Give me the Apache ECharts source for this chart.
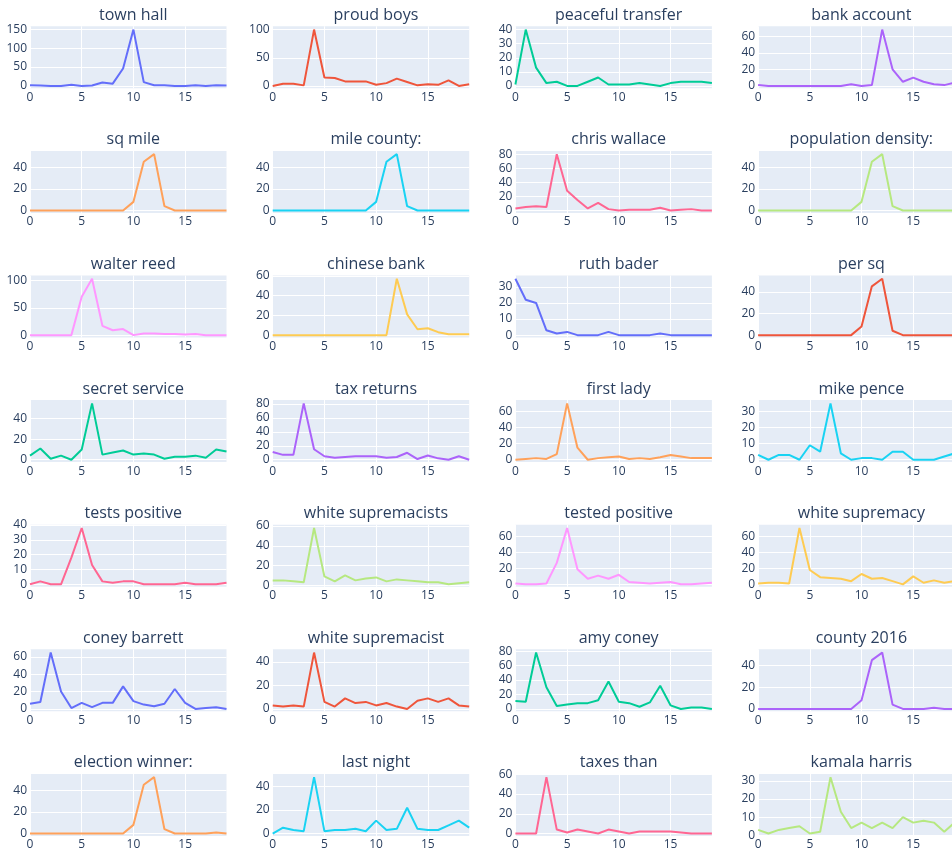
<!DOCTYPE html>
<html>
<head>
<meta charset="utf-8">
<script src="https://cdn.jsdelivr.net/npm/echarts@6/dist/echarts.min.js"></script>
<style>
html,body{margin:0;padding:0;background:#fff;}
#chart{width:952px;height:854px;}
</style>
</head>
<body>
<div id="chart"></div>
<script>
// ---- data ----
const xValues = [0,1,2,3,4,5,6,7,8,9,10,11,12,13,14,15,16,17,18,19];
const xTicks = [0,5,10,15];

const titles = ["town hall","proud boys","peaceful transfer","bank account",
  "sq mile","mile county:","chris wallace","population density:",
  "walter reed","chinese bank","ruth bader","per sq",
  "secret service","tax returns","first lady","mike pence",
  "tests positive","white supremacists","tested positive","white supremacy",
  "coney barrett","white supremacist","amy coney","county 2016",
  "election winner:","last night","taxes than","kamala harris"];

const townHall          = [2,1,0,0,3,0,1,9,6,46,149,10,2,2,0,0,2,0,2,1];
const proudBoys         = [0,4,4,1,100,15,14,8,8,8,2,5,13,7,1,3,2,10,0,3];
const peacefulTransfer  = [1,40,13,2,3,0,0,3,6,1,1,1,2,1,0,2,3,3,3,2];
const bankAccount       = [1,0,0,0,0,0,0,0,0,2,0,1,68,20,5,10,5,2,1,4];
const sqMile            = [0,0,0,0,0,0,0,0,0,0,8,45,52,4,0,0,0,0,0,0];
const mileCounty        = [0,0,0,0,0,0,0,0,0,0,8,45,52,4,0,0,0,0,0,0];
const chrisWallace      = [3,5,6,5,80,28,15,3,11,2,0,1,1,1,4,0,1,2,0,0];
const populationDensity = [0,0,0,0,0,0,0,0,0,0,8,45,52,4,0,0,0,0,0,0];
const walterReed        = [0,0,0,0,0,70,103,17,9,11,0,3,3,2,2,1,2,0,0,0];
const chineseBank       = [0,0,0,0,0,0,0,0,0,0,0,0,57,21,6,7,3,1,1,1];
const ruthBader         = [35,22,20,3,1,2,0,0,0,2,0,0,0,0,1,0,0,0,0,0];
const perSq             = [0,0,0,0,0,0,0,0,0,0,8,45,52,4,0,0,0,0,0,0];
const secretService     = [4,11,1,4,0,10,55,5,7,9,5,6,5,1,3,3,4,2,10,8];
const taxReturns        = [11,7,7,81,15,5,3,4,5,5,5,3,4,10,1,6,2,0,5,0];
const firstLady         = [0,1,2,1,7,70,15,0,2,3,4,1,2,1,3,6,4,2,2,2];
const mikePence         = [3,0,3,3,0,9,5,35,4,0,1,1,0,5,5,0,0,0,2,4];
const testsPositive     = [0,2,0,0,18,38,13,2,1,2,2,0,0,0,0,1,0,0,0,1];
const whiteSupremacists = [5,5,4,3,58,9,4,10,5,7,8,4,6,5,4,3,3,1,2,3];
const testedPositive    = [1,0,0,1,27,71,19,7,11,7,12,3,2,1,2,3,0,0,1,2];
const whiteSupremacy    = [1,2,2,1,71,18,9,8,7,4,13,7,8,4,0,10,2,5,2,4];
const coneyBarrett      = [6,8,65,20,1,7,2,7,7,26,9,5,3,6,23,7,0,1,2,0];
const whiteSupremacist  = [3,2,3,2,48,6,2,9,5,6,3,5,2,0,7,9,6,9,3,2];
const amyConey          = [11,10,78,30,4,6,8,8,12,38,10,8,3,9,32,5,0,2,2,0];
const county2016        = [0,0,0,0,0,0,0,0,0,0,8,45,52,4,0,0,0,1,0,0];
const electionWinner    = [0,0,0,0,0,0,0,0,0,0,8,45,52,4,0,0,0,0,1,0];
const lastNight         = [0,5,3,2,48,2,3,3,4,2,11,3,4,22,4,3,3,7,11,5];
const taxesThan         = [0,0,0,57,4,1,4,2,0,4,2,0,2,2,2,2,1,0,0,0];
const kamalaHarris      = [3,1,3,4,5,1,2,32,13,4,7,4,7,4,10,7,8,7,2,7];

const seriesValues = [townHall,proudBoys,peacefulTransfer,bankAccount,
  sqMile,mileCounty,chrisWallace,populationDensity,
  walterReed,chineseBank,ruthBader,perSq,
  secretService,taxReturns,firstLady,mikePence,
  testsPositive,whiteSupremacists,testedPositive,whiteSupremacy,
  coneyBarrett,whiteSupremacist,amyConey,county2016,
  electionWinner,lastNight,taxesThan,kamalaHarris];

// y tick step per panel (tick labels are multiples of it)
const yTickStep = [50,50,10,20, 20,20,20,20, 50,20,10,20, 20,20,20,10,
  10,20,20,20, 20,20,20,20, 20,20,20,10];

// ---- styling / layout ----
const colors = ['#636efa','#EF553B','#00cc96','#ab63fa','#FFA15A','#19d3f3',
  '#FF6692','#B6E880','#FF97FF','#FECB52'];
const textColor = '#2a3f5f';
const font = '"Open Sans", verdana, arial, sans-serif';
const colX0 = 30, colStep = 242.7, plotW = 196.5;
const rowY0 = 26.3, rowStep = 124.6, plotH = 62;

const grids = [], xAxes = [], yAxes = [], series = [], titleOpts = [];
titles.forEach((t, i) => {
  const r = Math.floor(i / 4), c = i % 4;
  const left = colX0 + c * colStep, top = rowY0 + r * rowStep;
  const vals = seriesValues[i];
  const dmin = Math.min(...vals), dmax = Math.max(...vals);
  const span = dmax - dmin;
  const yMin = dmin - span * 0.042, yMax = dmax + span * 0.058;
  const step = yTickStep[i];
  const yTicks = [];
  for (let v = 0; v <= yMax; v += step) yTicks.push(v);

  grids.push({left: left, top: top, width: plotW, height: plotH,
    backgroundColor: '#E5ECF6', show: true, borderWidth: 0,
    outerBoundsMode: 'none', containLabel: false});
  xAxes.push({type: 'value', gridIndex: i, min: 0, max: 19,
    axisLine: {show: false},
    axisTick: {show: false, customValues: xTicks},
    axisLabel: {customValues: xTicks, color: textColor, fontSize: 12,
      fontFamily: font, margin: 3},
    splitLine: {show: true, lineStyle: {color: '#ffffff', width: 1}}});
  yAxes.push({type: 'value', gridIndex: i, min: yMin, max: yMax,
    axisLine: {show: false},
    axisTick: {show: false, customValues: yTicks},
    axisLabel: {customValues: yTicks, color: textColor, fontSize: 12,
      fontFamily: font, margin: 3},
    splitLine: {show: true, lineStyle: {color: '#ffffff', width: 1}}});
  series.push({type: 'line', xAxisIndex: i, yAxisIndex: i,
    data: xValues.map((x, k) => [x, vals[k]]),
    showSymbol: false, symbol: 'none', animation: false,
    lineStyle: {width: 2, color: colors[i % colors.length]},
    itemStyle: {color: colors[i % colors.length]}});
  titleOpts.push({text: t, left: left + plotW / 2, top: top - 24,
    textAlign: 'center',
    textStyle: {color: textColor, fontSize: 16, fontWeight: 'normal',
      fontFamily: font}});
});

const chart = echarts.init(document.getElementById('chart'), null, {renderer: 'canvas'});
chart.setOption({
  animation: false,
  backgroundColor: '#ffffff',
  title: titleOpts,
  grid: grids,
  xAxis: xAxes,
  yAxis: yAxes,
  series: series
});
</script>
</body>
</html>
